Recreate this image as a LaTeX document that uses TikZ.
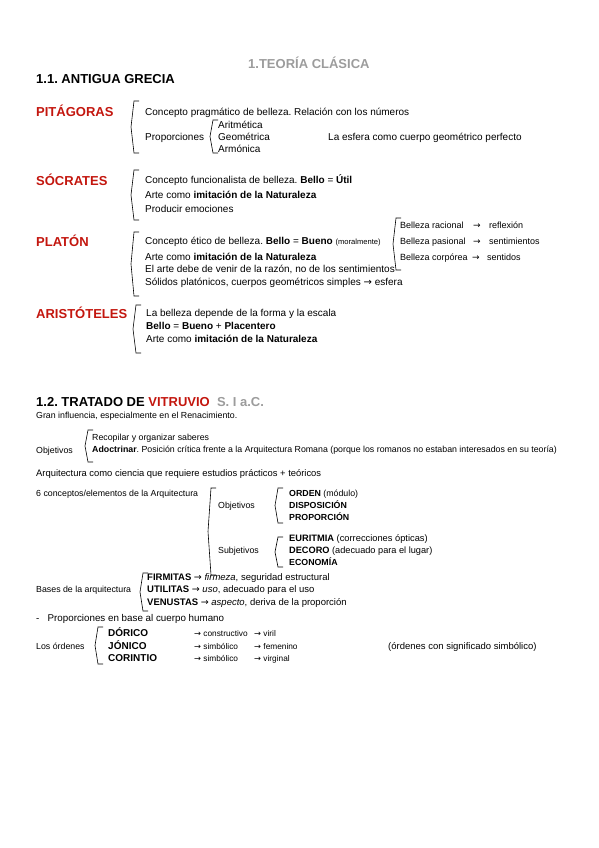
\documentclass[tikz,border=0pt]{standalone}
\usepackage{fontspec}
\setmainfont{Liberation Sans}
\newfontfamily\flechas{DejaVu Sans}
\newcommand{\fl}{{\flechas →}}
\frenchspacing

\definecolor{rojo}{HTML}{C3160E}
\definecolor{gris}{HTML}{9C9C9C}

\tikzset{
  txt/.style={anchor=west, inner sep=0pt, text height=7.3pt, text depth=2.1pt, font=\fontsize{10}{12}\selectfont},
  txtb/.style={anchor=west, inner sep=0pt, text height=6.6pt, text depth=1.9pt, font=\fontsize{9}{11}\selectfont},
  txtp/.style={anchor=west, inner sep=0pt, text height=6.4pt, text depth=1.9pt, font=\fontsize{8.8}{10}\selectfont},
  autor/.style={anchor=west, inner sep=0pt, text=rojo, font=\fontsize{13}{15}\selectfont\bfseries},
  seccion/.style={anchor=west, inner sep=0pt, font=\fontsize{13}{15}\selectfont\bfseries},
  orden/.style={anchor=west, inner sep=0pt, text height=7.3pt, text depth=2.1pt, font=\fontsize{10}{12}\selectfont\bfseries},
  llave/.style={line width=0.6pt}
}
% llave: x, arriba, abajo
\newcommand{\llave}[3]{\draw[llave] ({#1+5},#2) -- (#1,#2) -- ({#1-3},{(#2+#3)/2}) -- (#1,#3) -- ({#1+5},#3);}

\begin{document}
\begin{tikzpicture}[x=1pt,y=-1pt]
  \useasboundingbox (0,0) rectangle (599,848);

  \node [anchor=west, inner sep=0pt, text=gris, font=\fontsize{13}{15}\selectfont\bfseries] (titulo) at (248,63) {1.TEORÍA CLÁSICA};
  \node [seccion] (grecia) at (36,79) {1.1. ANTIGUA GRECIA};

  % Pitagoras
  \node [autor] (pitagoras) at (36,111) {PITÁGORAS};
  \llave{134}{101}{153}
  \node [txt] (pit1) at (145,113) {Concepto pragmático de belleza. Relación con los números};
  \node [txt] (proporciones) at (145,138) {Proporciones};
  \llave{213}{120}{153}
  \node [txt] (aritmetica) at (218,126) {Aritmética};
  \node [txt] (geometrica) at (218,138) {Geométrica};
  \node [txt] (armonica) at (218,150) {Armónica};
  \node [txt] (esfera) at (328,138) {La esfera como cuerpo geométrico perfecto};

  % Socrates
  \node [autor] (socrates) at (36,180) {SÓCRATES};
  \llave{134}{170}{220}
  \node [txt] (soc1) at (145,181) {Concepto funcionalista de belleza. \textbf{Bello} = \textbf{Útil}};
  \node [txt] (soc2) at (145,196) {Arte como \textbf{imitación de la Naturaleza}};
  \node [txt] (soc3) at (145,210) {Producir emociones};

  % Platon
  \node [autor] (platon) at (36,241) {PLATÓN};
  \llave{134}{232}{296}
  \node [txt] (pla1) at (145,242) {Concepto ético de belleza. \textbf{Bello} = \textbf{Bueno} {\fontsize{7.6}{9}\selectfont(moralmente)}};
  \node [txt] (pla2) at (145,258) {Arte como \textbf{imitación de la Naturaleza}};
  \node [txt] (pla3) at (145,270) {El arte debe de venir de la razón, no de los sentimientos};
  \node [txt] (pla4) at (145,283) {Sólidos platónicos, cuerpos geométricos simples \fl{} esfera};
  \llave{396}{218}{270}
  \node [txtb] (racional) at (400,226) {Belleza racional};
  \node [txtb] (pasional) at (400,242) {Belleza pasional};
  \node [txtb] (corporea) at (400,258) {Belleza corpórea};
  \node [txtb] (fr) at (473,226) {\fl};
  \node [txtb] (fp) at (473,242) {\fl};
  \node [txtb] (fc) at (472,258) {\fl};
  \node [txtb] (reflexion) at (489,226) {reflexión};
  \node [txtb] (sentimientos) at (489,242) {sentimientos};
  \node [txtb] (sentidos) at (487,258) {sentidos};

  % Aristoteles
  \node [autor] (aristoteles) at (36,313) {ARISTÓTELES};
  \llave{136}{305}{353}
  \node [txt] (ari1) at (146,314) {La belleza depende de la forma y la escala};
  \node [txt] (ari2) at (146,327) {\textbf{Bello} = \textbf{Bueno} + \textbf{Placentero}};
  \node [txt] (ari3) at (146,340) {Arte como \textbf{imitación de la Naturaleza}};

  % Vitruvio
  \node [seccion] (vitruvio) at (36,402) {1.2. TRATADO DE \textcolor{rojo}{VITRUVIO}\ \ \textcolor{gris}{S. I a.C.}};
  \node [txtp] (influencia) at (36,416) {Gran influencia, especialmente en el Renacimiento.};
  \node [txtp] (objetivos) at (36,451) {Objetivos};
  \llave{88}{430}{462}
  \node [txtp] (recopilar) at (92,438) {Recopilar y organizar saberes};
  \node [txtp] (adoctrinar) at (92,450) {\textbf{Adoctrinar}. Posición crítica frente a la Arquitectura Romana (porque los romanos no estaban interesados en su teoría)};
  \node [txtp, font=\fontsize{9.4}{11}\selectfont] (ciencia) at (36,474) {Arquitectura como ciencia que requiere estudios prácticos + teóricos};

  \node [txtp] (conceptos) at (36,494) {6 conceptos/elementos de la Arquitectura};
  \llave{211}{488}{575}
  \node [txtp] (objetivos2) at (218,506) {Objetivos};
  \llave{278}{488}{523}
  \node [txtp] (ordenm) at (289,494) {\textbf{ORDEN} (módulo)};
  \node [txtp] (disposicion) at (289,506) {\textbf{DISPOSICIÓN}};
  \node [txtp] (proporcion) at (289,518) {\textbf{PROPORCIÓN}};
  \node [txtp] (subjetivos) at (218,551) {Subjetivos};
  \llave{278}{537}{567}
  \node [txtp, font=\fontsize{9.3}{11}\selectfont] (euritmia) at (289,539) {\textbf{EURITMIA} (correcciones ópticas)};
  \node [txtp, font=\fontsize{9.2}{11}\selectfont] (decoro) at (289,551) {\textbf{DECORO} (adecuado para el lugar)};
  \node [txtp] (economia) at (289,563) {\textbf{ECONOMÍA}};

  \node [txtp] (bases) at (36,590) {Bases de la arquitectura};
  \llave{143}{573}{611}
  \node [txtp, font=\fontsize{9.5}{11}\selectfont] (firmitas) at (147,578) {\textbf{FIRMITAS} \fl{} \textit{firmeza}, seguridad estructural};
  \node [txtp, font=\fontsize{9.5}{11}\selectfont] (utilitas) at (147,590) {\textbf{UTILITAS} \fl{} \textit{uso}, adecuado para el uso};
  \node [txtp, font=\fontsize{9.5}{11}\selectfont] (venustas) at (147,603) {\textbf{VENUSTAS} \fl{} \textit{aspecto}, deriva de la proporción};
  \node [txtp, font=\fontsize{9.8}{11}\selectfont] (cuerpo) at (36,619) {-\ \ \ Proporciones en base al cuerpo humano};

  \node [txtp] (ordenes) at (36,647) {Los órdenes};
  \llave{98}{627}{664}
  \node [orden] (dorico) at (108,634) {DÓRICO};
  \node [orden] (jonico) at (108,647) {JÓNICO};
  \node [orden] (corintio) at (108,659) {CORINTIO};
  \foreach \fila/\y/\uno/\dos in {d/634/constructivo/viril, j/647/simbólico/femenino, c/659/simbólico/virginal} {
    \node [txtp, font=\fontsize{8.3}{10}\selectfont] (u\fila) at (194,\y) {\fl{} \uno};
    \node [txtp, font=\fontsize{8.3}{10}\selectfont] (v\fila) at (254,\y) {\fl{} \dos};
  }
  \node [txtp, font=\fontsize{9.5}{11}\selectfont] (simbolico) at (388,647) {(órdenes con significado simbólico)};
\end{tikzpicture}
\end{document}
